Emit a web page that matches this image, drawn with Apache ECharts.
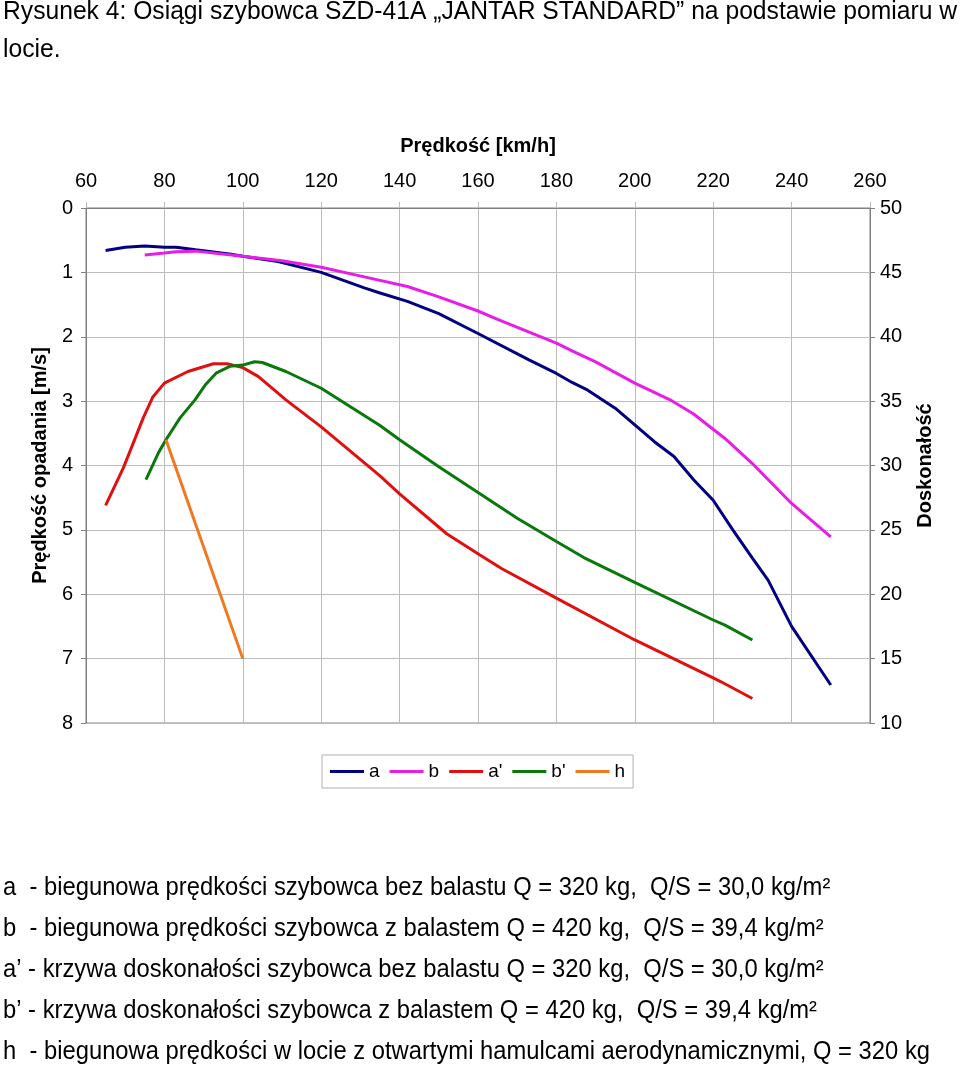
<!DOCTYPE html>
<html>
<head>
<meta charset="utf-8">
<script src="https://cdn.jsdelivr.net/npm/echarts@6/dist/echarts.min.js"></script>
<style>
html, body { margin: 0; padding: 0; background: #fff; }
#chart { width: 960px; height: 1067px; }
</style>
</head>
<body>
<div id="chart"></div>
<script>
// ---- data ----
var xTicks = [60, 80, 100, 120, 140, 160, 180, 200, 220, 240, 260];
var sinkTicks = [0, 1, 2, 3, 4, 5, 6, 7, 8];
var glideTicks = [10, 15, 20, 25, 30, 35, 40, 45, 50];
var seriesNames = ['a', 'b', "a'", "b'", 'h'];

var aSpeed = [65, 70, 75, 80, 83, 88, 97, 100, 109, 120, 131, 135, 142, 150, 160, 173, 180, 184, 188, 195, 200, 205, 210, 215, 220, 225, 230, 234, 240, 250];
var aSink  = [0.66, 0.61, 0.59, 0.61, 0.61, 0.65, 0.72, 0.75, 0.83, 1.0, 1.24, 1.32, 1.45, 1.64, 1.95, 2.36, 2.57, 2.71, 2.83, 3.11, 3.37, 3.63, 3.86, 4.22, 4.54, 5.0, 5.44, 5.78, 6.5, 7.41];

var bSpeed = [75, 80, 83, 88, 100, 110, 120, 131, 142, 150, 160, 165, 180, 184, 190, 200, 209, 215, 223, 230, 240, 250];
var bSink  = [0.73, 0.70, 0.68, 0.67, 0.75, 0.82, 0.92, 1.07, 1.22, 1.38, 1.60, 1.73, 2.10, 2.22, 2.39, 2.72, 2.98, 3.20, 3.58, 3.97, 4.59, 5.11];

var a2Speed = [65, 69.5, 72, 74.6, 77, 80, 86, 92.5, 96, 100, 104, 111, 120, 135, 140, 152, 160.5, 166, 180, 200, 220, 222, 230];
var a2Glide = [26.9, 29.8, 31.7, 33.7, 35.3, 36.4, 37.3, 37.9, 37.9, 37.6, 36.9, 35.1, 33.0, 29.2, 27.8, 24.7, 23.05, 22.0, 19.7, 16.45, 13.5, 13.2, 11.9];

var b2Speed = [75.3, 78.5, 80.4, 84, 87.8, 90.4, 93.3, 96.7, 100, 103, 105, 111, 120, 135, 140, 150, 160.5, 170, 180, 187, 200.5, 220, 223, 230];
var b2Glide = [28.9, 31.0, 32.0, 33.7, 35.1, 36.25, 37.2, 37.7, 37.8, 38.06, 38.0, 37.3, 36.0, 33.1, 32.0, 29.9, 27.8, 25.9, 24.1, 22.85, 20.85, 18.0, 17.6, 16.45];

var hSpeed = [80.4, 100];
var hSink  = [3.6, 7.0];

var titleLines = ['Rysunek 4: Osiągi szybowca SZD-41A „JANTAR STANDARD” na podstawie pomiaru w', 'locie.'];
var notes = [
  'a  - biegunowa prędkości szybowca bez balastu Q = 320 kg,  Q/S = 30,0 kg/m²',
  'b  - biegunowa prędkości szybowca z balastem Q = 420 kg,  Q/S = 39,4 kg/m²',
  'a’ - krzywa doskonałości szybowca bez balastu Q = 320 kg,  Q/S = 30,0 kg/m²',
  'b’ - krzywa doskonałości szybowca z balastem Q = 420 kg,  Q/S = 39,4 kg/m²',
  'h  - biegunowa prędkości w locie z otwartymi hamulcami aerodynamicznymi, Q = 320 kg'
];

function zip(xs, ys) { return xs.map(function (x, i) { return [x, ys[i]]; }); }

var FONT = '"Liberation Sans", Arial, sans-serif';
var colors = ['#000080', '#e61ee6', '#e01010', '#0a780a', '#f07820'];

// text in the reference is slightly condensed: fit widths horizontally
var ctx = document.createElement('canvas').getContext('2d');
function measure(text, font) { ctx.font = font; return ctx.measureText(text).width; }
var titleFont = '25px ' + FONT;
var noteFont = '26px ' + FONT;
var titleScale = 954 / measure(titleLines[0], titleFont);
var noteScale = 927 / measure(notes[4], noteFont);

var graphics = [];
var titleY = [12, 50];
titleLines.forEach(function (t, i) {
  graphics.push({ type: 'text', x: 3, y: titleY[i], scaleX: titleScale,
    style: { text: t, font: titleFont, fill: '#000', verticalAlign: 'middle', align: 'left' } });
});
notes.forEach(function (t, i) {
  graphics.push({ type: 'text', x: 3, y: 888 + i * 41, scaleX: noteScale,
    style: { text: t, font: noteFont, fill: '#000', verticalAlign: 'middle', align: 'left' } });
});

var chart = echarts.init(document.getElementById('chart'), null, { renderer: 'canvas' });
var gridColor = '#bcbcbc';
var axisColor = '#808080';
chart.setOption({
  animation: false,
  textStyle: { fontFamily: FONT },
  color: colors,
  grid: { left: 86, right: 90, top: 208, bottom: 344, show: true, borderColor: axisColor, borderWidth: 1, containLabel: false },
  legend: {
    data: seriesNames, left: 322, top: 755, orient: 'horizontal',
    icon: 'rect', itemWidth: 34, itemHeight: 3, itemGap: 10, itemTextGap: 5,
    padding: [7, 8], borderColor: '#b0b0b0', borderWidth: 1,
    textStyle: { fontSize: 19, color: '#000', fontFamily: FONT }
  },
  xAxis: {
    type: 'value', position: 'top', min: xTicks[0], max: xTicks[xTicks.length - 1], interval: 20,
    name: 'Prędkość [km/h]', nameLocation: 'middle', nameGap: 52,
    nameTextStyle: { fontSize: 20, fontWeight: 'bold', color: '#000', fontFamily: FONT },
    axisLine: { show: true, lineStyle: { color: axisColor } },
    axisTick: { show: true, length: 6, lineStyle: { color: gridColor } },
    axisLabel: { fontSize: 20, color: '#000', margin: 17, fontFamily: FONT },
    splitLine: { show: true, lineStyle: { color: gridColor } }
  },
  yAxis: [{
    type: 'value', inverse: true, min: sinkTicks[0], max: sinkTicks[sinkTicks.length - 1], interval: 1,
    position: 'left',
    name: 'Prędkość opadania [m/s]', nameLocation: 'middle', nameGap: 34, nameRotate: 90,
    nameTextStyle: { fontSize: 20, fontWeight: 'bold', color: '#000', fontFamily: FONT },
    axisLine: { show: true, lineStyle: { color: axisColor } },
    axisTick: { show: true, length: 5, lineStyle: { color: axisColor } },
    axisLabel: { fontSize: 20, color: '#000', margin: 13, fontFamily: FONT },
    splitLine: { show: true, lineStyle: { color: gridColor } }
  }, {
    type: 'value', min: glideTicks[0], max: glideTicks[glideTicks.length - 1], interval: 5,
    position: 'right',
    name: 'Doskonałość', nameLocation: 'middle', nameGap: 45, nameRotate: 90,
    nameTextStyle: { fontSize: 20, fontWeight: 'bold', color: '#000', fontFamily: FONT },
    axisLine: { show: true, lineStyle: { color: axisColor } },
    axisTick: { show: true, length: 5, lineStyle: { color: axisColor } },
    axisLabel: { fontSize: 20, color: '#000', margin: 10, fontFamily: FONT },
    splitLine: { show: false }
  }],
  series: [
    { name: seriesNames[0], type: 'line', yAxisIndex: 0, data: zip(aSpeed, aSink), symbol: 'none', lineStyle: { width: 3 } },
    { name: seriesNames[1], type: 'line', yAxisIndex: 0, data: zip(bSpeed, bSink), symbol: 'none', lineStyle: { width: 3 } },
    { name: seriesNames[2], type: 'line', yAxisIndex: 1, data: zip(a2Speed, a2Glide), symbol: 'none', lineStyle: { width: 3 } },
    { name: seriesNames[3], type: 'line', yAxisIndex: 1, data: zip(b2Speed, b2Glide), symbol: 'none', lineStyle: { width: 3 } },
    { name: seriesNames[4], type: 'line', yAxisIndex: 0, data: zip(hSpeed, hSink), symbol: 'none', lineStyle: { width: 3 } }
  ],
  graphic: graphics
});
</script>
</body>
</html>
